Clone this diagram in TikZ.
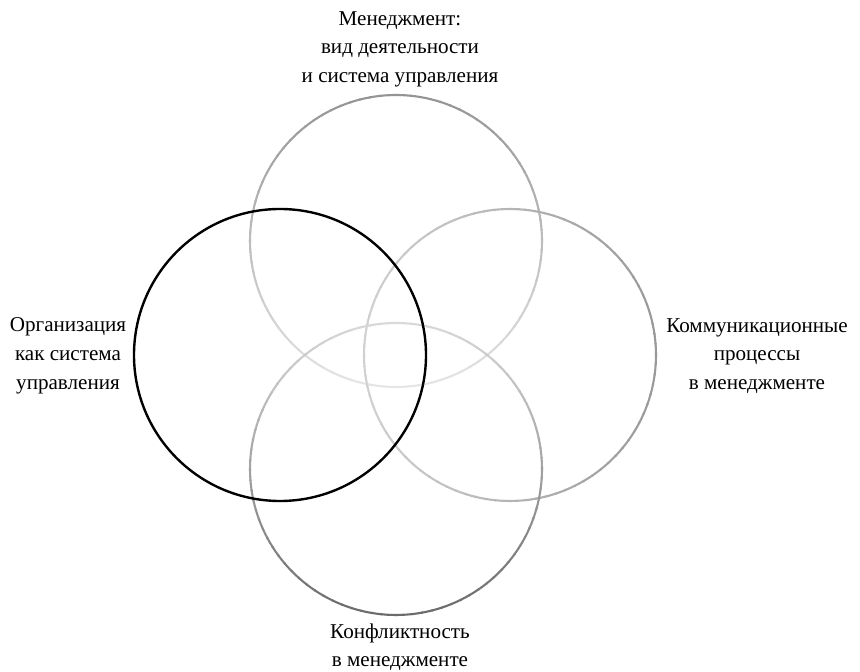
\documentclass[tikz,border=0pt]{standalone}
\usepackage{fontspec}
\setmainfont{Liberation Serif}

% ring drawn in short arcs, dark on the far side and pale towards the middle
\newcommand{\fadering}[5]{%
  \foreach \a in {0,4,...,356}{
    \pgfmathsetmacro{\p}{#5+(#4-#5)*(1+cos(\a+2-#3))/2}
    \draw[ring, black!\p] (#1) ++(\a:#2) arc[start angle=\a, end angle=\a+4.6, radius=#2];
  }}

\begin{document}
\begin{tikzpicture}[
    ring/.style={line width=1.5pt},
    label/.style={align=center, font=\fontsize{15}{20.5}\selectfont}
  ]
    \useasboundingbox (0,0) rectangle (21.5,16.8);

    % Circle centres
    \coordinate (ctop) at (9.9,10.775);
    \coordinate (cbot) at (9.9,5.075);
    \coordinate (cleft) at (7.0,7.925);
    \coordinate (cright) at (12.75,7.925);

    % Grey rings
    \fadering{ctop}{3.65}{90}{42}{10}
    \fadering{cright}{3.65}{0}{40}{18}
    \fadering{cbot}{3.65}{270}{58}{15}

    % Black ring
    \draw[line width=1.7pt, black] (cleft) circle[radius=3.65];

    % Labels
    \node[label] (mgmt) at (10.0,15.57) {Менеджмент:\\вид деятельности\\и система управления};
    \node[label] (org) at (1.7,7.9) {Организация\\как система\\управления};
    \node[label] (comm) at (18.925,7.9) {Коммуникационные\\процессы\\в менеджменте};
    \node[label] (conf) at (10.0,0.62) {Конфликтность\\в менеджменте};
\end{tikzpicture}
\end{document}
